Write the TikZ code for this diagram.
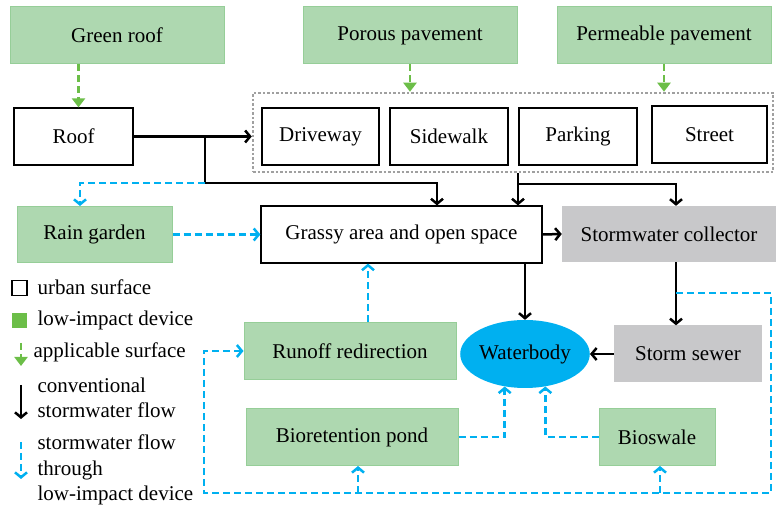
\documentclass[tikz,border=0pt]{standalone}
\usepackage{fontspec}
\setmainfont{Liberation Serif}
\usetikzlibrary{arrows.meta,shapes.geometric}

\definecolor{lidgreen}{RGB}{174,216,176}
\definecolor{lidedge}{RGB}{150,206,152}
\definecolor{applicgreen}{RGB}{108,190,72}
\definecolor{flowblue}{RGB}{0,176,240}
\definecolor{sewergray}{RGB}{200,200,202}
\definecolor{dotgray}{RGB}{160,160,160}

\tikzset{
  urban/.style={draw, line width=1.2pt, fill=white, minimum height=57},
  device/.style={draw=lidedge, line width=1pt, fill=lidgreen, minimum height=57},
  gray/.style={fill=sewergray, minimum height=56},
  conv/.style={line width=2.5pt, -{Straight Barb[length=5pt,width=12pt,line width=2.5pt]}},
  lidflow/.style={flowblue, line width=2.5pt, dash pattern=on 7pt off 4pt, -{Straight Barb[length=5pt,width=12pt,line width=2.5pt]}},
  applic/.style={applicgreen, line width=2.5pt, dash pattern=on 7pt off 4pt, -{Triangle[length=9pt,width=13pt]}}
}

\begin{document}
\begin{tikzpicture}[x=1pt, y=-1pt, font=\fontsize{21}{25.5}\selectfont]
\useasboundingbox (0,0) rectangle (777,510);

%devices on top
\node[device, minimum width=214] (greenroof) at (117,35.5) {Green roof};
\node[device, minimum width=214] (porous) at (410,35.5) {Porous pavement};
\node[device, minimum width=214] (permeable) at (664,35.5) {Permeable pavement};

%surfaces
\node[draw=dotgray, line width=2.5pt, dash pattern=on 2.5pt off 2pt, minimum width=520, minimum height=79] (surfaces) at (513,132.5) {};
\node[urban, minimum width=119] (roof) at (73.5,136.5) {Roof};
\node[urban, minimum width=117] (driveway) at (320.5,136.5) {Driveway};
\node[urban, minimum width=118] (sidewalk) at (449,136.5) {Sidewalk};
\node[urban, minimum width=118] (parking) at (578,136.5) {Parking};
\node[urban, minimum width=115] (street) at (709.5,134.5) {Street};

%middle row
\node[device, minimum width=155, minimum height=56] (raingarden) at (94.5,234.5) {Rain garden};
\node[urban, minimum width=281] (grassy) at (401.5,234.5) {Grassy area and open space};
\node[gray, minimum width=214] (collector) at (669,234) {Stormwater collector};

%lower part
\node[device, minimum width=212] (runoff) at (350,351) {Runoff redirection};
\node[ellipse, fill=flowblue, minimum width=125, minimum height=68, inner sep=0pt] (waterbody) at (525,354) {Waterbody};
\node[gray, minimum width=148, minimum height=57] (sewer) at (688,354) {Storm sewer};
\node[device, minimum width=212] (bioretention) at (352,437) {Bioretention pond};
\node[device, minimum width=116] (bioswale) at (657,437) {Bioswale};

%applicable surfaces
\draw[applic] ([xshift=5pt]roof.north |- greenroof.south) -- ([xshift=5pt]roof.north);
\draw[applic] (porous.south) -- (porous.south |- surfaces.north);
\draw[applic] (permeable.south) -- (permeable.south |- surfaces.north);

%conventional flow
\coordinate (rj) at (205,183); \coordinate (ga) at (437,183); \coordinate (pj) at (518,184); \coordinate (cs) at (676,293);
\draw[conv] (roof.east) -- (roof.east -| surfaces.west);
\draw[conv] (roof.east -| rj) -- (rj) -- (ga) -- (ga |- grassy.north);
\draw[conv] (pj |- surfaces.south) -- (pj |- grassy.north);
\draw[conv] (pj) -- (pj -| cs) -- (cs |- collector.north);
\draw[conv] (grassy.east) -- (collector.west);
\draw[conv] (waterbody.north |- grassy.south) -- (waterbody.north);
\draw[conv] (cs |- collector.south) -- (cs |- sewer.north);
\draw[conv] (sewer.west) -- (waterbody.east);

%flow through devices
\coordinate (rg) at (80,183); \coordinate (lr) at (771,493); \coordinate (ll) at (204,493);
\draw[lidflow] (rj) -- (rg) -- (rg |- raingarden.north);
\draw[lidflow] (raingarden.east) -- (grassy.west);
\draw[lidflow] ([xshift=18pt]runoff.north) -- ([xshift=18pt]runoff.north |- grassy.south);
\draw[lidflow] (bioretention.east) -| (waterbody.238);
\draw[lidflow] (bioswale.west) -| (waterbody.302);
\draw[lidflow] (cs) -- (cs -| lr) -- (lr) -- (ll) -- (ll |- runoff.west) -- (runoff.west);
\draw[lidflow] ([xshift=6pt]bioretention.south |- ll) -- ([xshift=6pt]bioretention.south);
\draw[lidflow] ([xshift=3pt]bioswale.south |- ll) -- ([xshift=3pt]bioswale.south);

%legend
\node[draw, line width=1.2pt, minimum size=15, inner sep=0pt] (lgurban) at (19.5,288) {};
\node[anchor=west] (lgurbantext) at (34,287) {urban surface};
\node[fill=applicgreen, minimum size=15, inner sep=0pt] (lgdevice) at (19.5,320.5) {};
\node[anchor=west] (lgdevicetext) at (34,320) {low-impact device};
\coordinate (lga) at (21,343); \coordinate (lgb) at (21,366);
\draw[applic] (lga) -- (lgb);
\node[anchor=west] (lgapplictext) at (30,352) {applicable surface};
\coordinate (lgc) at (21,385); \coordinate (lgd) at (21,419);
\draw[conv] (lgc) -- (lgd);
\node[anchor=west, align=left] (lgconvtext) at (34,398) {conventional\\stormwater flow};
\coordinate (lge) at (21,442); \coordinate (lgf) at (21,479);
\draw[lidflow] (lge) -- (lgf);
\node[anchor=west, align=left] (lglidtext) at (34,470) {stormwater flow\\through\\low-impact device};
\end{tikzpicture}
\end{document}
